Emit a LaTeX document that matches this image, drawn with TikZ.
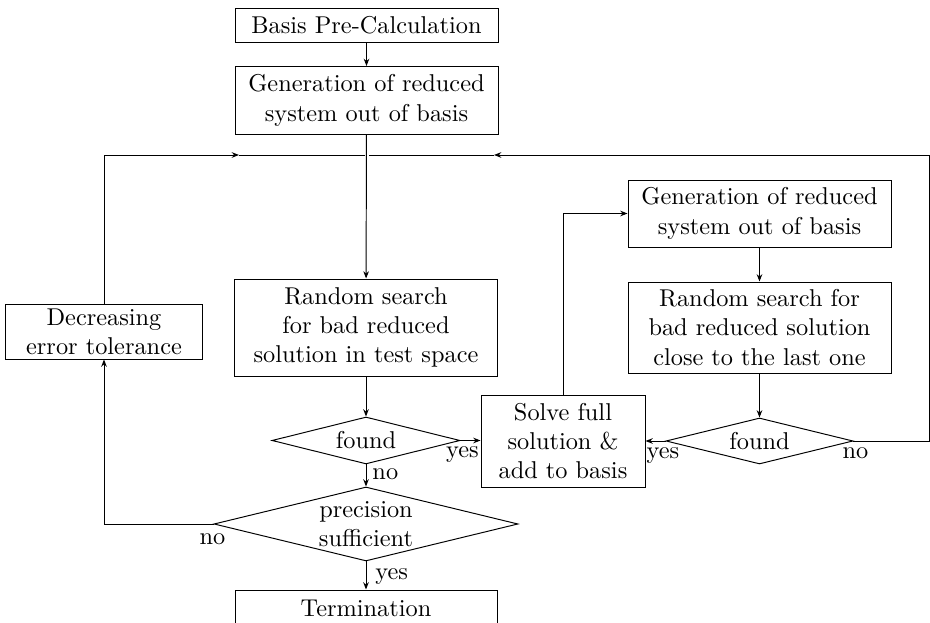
\documentclass[tikz,border=0pt]{standalone}
\usetikzlibrary{shapes.geometric,arrows.meta}
\newcommand{\pxl}{0.411pt}
\begin{document}
\begin{tikzpicture}[x=\pxl, y=-\pxl,
  sz/.style 2 args={minimum width=#1*\pxl, minimum height=#2*\pxl},
  box/.style={draw, align=center, inner sep=0pt},
  dia/.style={draw, diamond, align=center, inner sep=0pt, aspect=4},
  arr/.style={-{Stealth[length=3pt,width=2.3pt]}},
  lbl/.style={inner sep=0pt}]
\clip (0,0) rectangle (930,623);
% nodes
\node[box, sz={263}{34}] (basis) at (366.5,25) {Basis Pre-Calculation};
\node[box, sz={263}{68}] (gen1) at (366.5,100.5) {Generation of reduced\\system out of basis};
\node[box, sz={263}{97}] (rand1) at (366,327.5) {Random search\\for bad reduced\\solution in test space};
\node[dia, sz={188}{47}] (found1) at (366,440.5) {found};
\node[dia, sz={304}{74}] (prec) at (366,524) {precision\\sufficient};
\node[box, sz={262}{36}] (term) at (366,608) {Termination};
\node[box, sz={197}{55}] (dec) at (104,331.5) {Decreasing\\error tolerance};
\node[box, sz={164}{92}] (solve) at (563,441) {Solve full\\solution \&\\add to basis};
\node[box, sz={263}{67}] (gen2) at (759.5,213.5) {Generation of reduced\\system out of basis};
\node[box, sz={263}{91}] (rand2) at (759.5,327.5) {Random search for\\bad reduced solution\\close to the last one};
\node[dia, sz={187}{46}] (found2) at (759.5,441) {found};
% junction coordinates
\coordinate (jc) at (366.5,155);
\coordinate (jl) at (239,155);
\coordinate (jr) at (494,155);
\coordinate (rt) at (929,155);
% connectors
\draw[arr] (basis) -- (gen1);
\draw[arr] (dec.north) |- (jl);
\draw (jl) -- (jr);
\draw[arr] (found2.east) -| (rt) -- (jr);
\draw[white, line width=4*\pxl] (jc) ++(0,-5) -- ++(0,10);
\draw[arr] (gen1) -- (rand1);
\draw[arr] (rand1) -- (found1);
\draw[arr] (found1.east) -- (solve.west |- found1.east);
\draw[arr] (found1) -- (prec);
\draw[arr] (prec) -- (term);
\draw[arr] (prec.west) -| (dec.south);
\draw[arr] (solve.north) |- (gen2.west);
\draw[arr] (gen2) -- (rand2);
\draw[arr] (rand2) -- (found2);
\draw[arr] (found2.west) -- (solve.east |- found2.west);
% labels
\node[lbl, anchor=north] (ly1) at ([shift={(2,6)}]found1.east) {yes};
\node[lbl, anchor=north west] (ln1) at ([shift={(6,4)}]found1.south) {no};
\node[lbl, anchor=north] (ly2) at ([shift={(-2.5,6)}]found2.west) {yes};
\node[lbl, anchor=north] (ln2) at ([shift={(2,6)}]found2.east) {no};
\node[lbl, anchor=north] (ln3) at ([shift={(-1,9)}]prec.west) {no};
\node[lbl, anchor=north west] (ly3) at ([shift={(9,7)}]prec.south) {yes};
\end{tikzpicture}
\end{document}
